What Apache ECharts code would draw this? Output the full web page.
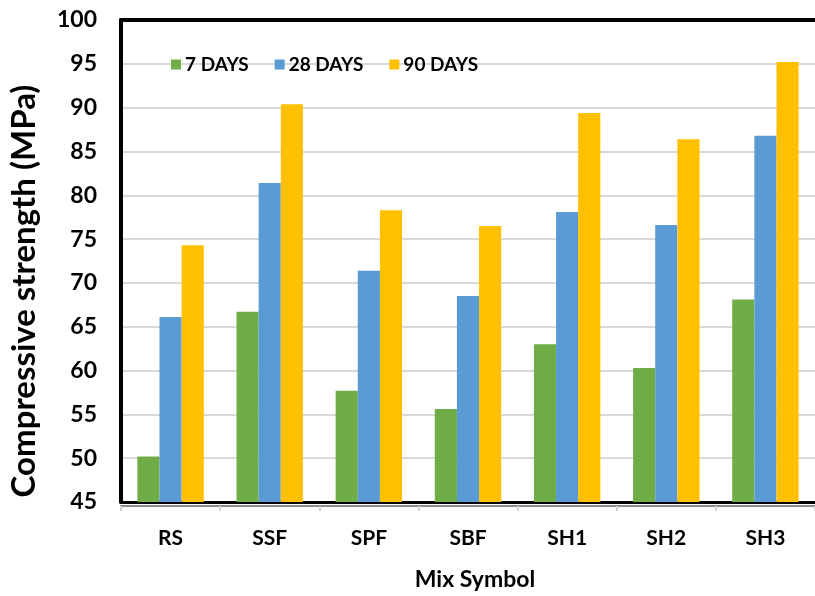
<!DOCTYPE html>
<html>
<head>
<meta charset="utf-8">
<script src="https://cdn.jsdelivr.net/npm/echarts@6/dist/echarts.min.js"></script>
<style>html,body{margin:0;padding:0;background:#fff}#c{width:815px;height:596px}</style>
</head>
<body>
<div id="c"></div>
<script>
const categories = ['RS', 'SSF', 'SPF', 'SBF', 'SH1', 'SH2', 'SH3'];
const seriesNames = ['7 DAYS', '28 DAYS', '90 DAYS'];
const days7 = [50.2, 66.7, 57.7, 55.6, 63.0, 60.3, 68.1];
const days28 = [66.1, 81.4, 71.4, 68.5, 78.1, 76.6, 86.8];
const days90 = [74.3, 90.4, 78.3, 76.5, 89.4, 86.4, 95.2];
const colors = ['#70AD47', '#5B9BD5', '#FFC000'];

const FONT = 'Lato';
const chart = echarts.init(document.getElementById('c'), null, {renderer: 'canvas'});
chart.setOption({
  animation: false,
  textStyle: {fontFamily: FONT},
  grid: {left: 121, top: 20, width: 700, bottom: 88, containLabel: false},
  legend: {
    data: seriesNames, left: 166, top: 50, itemWidth: 10, itemHeight: 10, itemGap: 26,
    icon: 'rect',
    textStyle: {fontFamily: FONT, fontWeight: 'bold', fontSize: 19, color: '#000', padding: [0, 0, 0, -1]}
  },
  xAxis: [
    {type: 'category', data: categories, position: 'bottom',
     axisLine: {show: true, lineStyle: {color: '#000', width: 3}},
     axisTick: {show: false}, axisLabel: {show: false}, splitLine: {show: false}},
    {type: 'category', data: categories, position: 'bottom', offset: 4,
     axisLine: {show: true, lineStyle: {color: '#8c8c8c', width: 2}},
     axisTick: {show: true, length: 5, lineStyle: {color: '#d0d0d0', width: 2}},
     axisLabel: {show: true, margin: 22, fontFamily: FONT, fontWeight: 'bold', fontSize: 21, color: '#000'},
     name: 'Mix Symbol', nameLocation: 'middle', nameGap: 62,
     nameTextStyle: {fontFamily: FONT, fontWeight: 'bold', fontSize: 23, color: '#000', padding: [0, 0, 0, 14]}},
    {type: 'category', data: categories, position: 'top',
     axisLine: {show: true, lineStyle: {color: '#000', width: 4}},
     axisTick: {show: false}, axisLabel: {show: false}}
  ],
  yAxis: {
    type: 'value', min: 45, max: 100, interval: 5,
    axisLine: {show: true, lineStyle: {color: '#000', width: 4}},
    axisTick: {show: false},
    axisLabel: {margin: 24, fontFamily: FONT, fontWeight: 'bold', fontSize: 23, color: '#000'},
    splitLine: {show: true, lineStyle: {color: '#d9d9d9', width: 2}},
    name: 'Compressive strength (MPa)', nameLocation: 'middle', nameGap: 80,
    nameTextStyle: {fontFamily: FONT, fontWeight: 'bold', fontSize: 33, color: '#000', padding: [0, 60, 0, 0]}
  },
  series: [
    {name: seriesNames[0], type: 'bar', data: days7, barGap: '0%', barCategoryGap: '33%', itemStyle: {color: colors[0]}},
    {name: seriesNames[1], type: 'bar', data: days28, barGap: '0%', barCategoryGap: '33%', itemStyle: {color: colors[1]}},
    {name: seriesNames[2], type: 'bar', data: days90, barGap: '0%', barCategoryGap: '33%', itemStyle: {color: colors[2]}}
  ]
});
</script>
</body>
</html>
